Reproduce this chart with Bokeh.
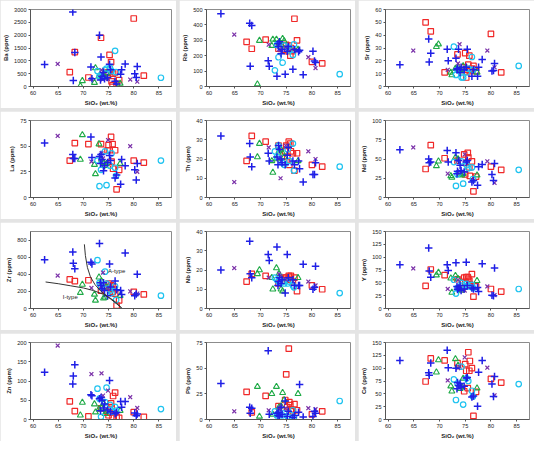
from bokeh.plotting import figure
from bokeh.layouts import gridplot
from bokeh.models import FixedTicker, Range1d, Label
from bokeh.embed import file_html
from bokeh.resources import INLINE

nan = float("nan")

# ---- SiO2 (wt.%) of each sample group ----
B_x = [62.3, 67.9, 68.0, 68.3, 71.5, 71.7, 73.2, 73.4, 73.5, 73.7, 74.0, 74.2, 74.8, 75.2, 75.4, 76.3, 76.6, 77.4, 77.6, 78.3, 80.2, 80.5, 80.7]
R_x = [67.3, 68.3, 71.0, 73.5, 74.8, 75.0, 75.2, 75.5, 75.6, 75.8, 75.9, 76.3, 76.6, 77.1, 80.0, 82.0]
G_x = [69.4, 69.8, 72.2, 72.4, 73.1, 73.6, 74.0, 74.3, 74.6, 77.3]
C_x = [72.8, 73.2, 73.5, 74.3, 74.6, 75.3, 75.6, 76.3, 76.5, 85.4]
P_x = [64.9, 71.6, 73.6, 73.9, 74.9, 79.3, 80.7]

# ---- blue crosses ----
Ba_B = [860, 2900, 230, 1320, 760, 300, 2000, 250, 1150, 400, 550, 300, 350, 870, 650, 200, 100, 480, 650, 880, 500, 350, 780]
Rb_B = [473, 410, 131, 396, 167, 131, 67, 277, 260, 290, 212, 240, 79, 229, 260, 112, 240, 225, 235, 77, 229, 165, 156]
Sr_B = [17, 37, 19, 26, 29, 20, 22, 13, 14, 29, 11, 15, 13, 15, 29, 8, 13, 8, 15, 21, 12, 12.5, 18]
La_B = [53, 42, 38, 38, 59, 39, 40, 33, 42, 37, 26, 31, 34, 41, 36, 19, 22, 13, 37, 31, 27, 17, 33]
Th_B = [32, 28, 21, 16, 23, 19, 21, 17, 27, 25, 20, 18, 17, 22, 26, 19, 17, 19, 15, 8, 12, 12, 18]
Nd_B = [62, 50, 45, 46, 61, 46, 58, 31, 34, 48, 42, 35, 33, 46, 48, 20, 22, 16, 40, 43, 30, 22, 44]
Zr_B = [570, 660, 530, 465, 540, 520, 760, 300, 270, 230, 300, 210, 150, 520, 250, 320, 220, 210, 165, 650, 150, 170, 400]
Nb_B = [20, 35, 18, 16, 28, 25, 32, 12, 14, 16, 13, 15, 8, 28, 16, 15, 12, 12, 12, 23, 10, 11, 22]
Y_B = [85, 118, 73, 61, 85, 74, 89, 43, 37, 40, 45, 35, 38, 90, 45, 40, 38, 41, 33, 87, 26, 25, 79]
Zn_B = [123, 92, 113, 142, 64, 62, 54, 23, 57, 50, 30, 40, 25, 101, 20, 15, 18, 47, 32, 47, 17, 10, 14]
Pb_B = [35, 12, 6, 11, 67, 5, 6, 4, 7, 3, 12, 5, 18, 3, 8, 2, 4, 7, 34, 2.5, 3, 8, 6]
Ce_B = [115, 91, 86, 110, 135, 101, 100, 60, 72, 66, 70, 63, 65, 81, 82, 44, 46, 26, 92, 115, 69, 45, 84]

# ---- red squares ----
Ba_R = [560, 1340, 350, 1900, 530, 560, 1230, 950, 200, 50, 500, 550, 100, 250, 2650, 420]
Rb_R = [290, 245, 305, 245, 240, 270, 230, 265, 245, 200, 250, 230, 440, 300, 160, 150]
Sr_R = [50, 43, 11, 25, 15, 26, 7, 13, 17, 24, 12, 14, 16, 12, 41, 11]
La_R = [36, 53, 52, 52, 46, 51, 46, 59, 35, 52, 28, 46, 8, 27, 36, 34]
Th_R = [19, 32, 29, 27, 24, 27, 21, 29, 17, 28, 24, 23, 14, 23, 17, 16]
Nd_R = [37, 68, 51, 48, 56, 30, 45, 58, 52, 39, 28, 47, 8, 27, 40, 36]
Zr_R = [340, 320, 330, 210, 250, 290, 240, 270, 230, 195, 260, 175, 35, 95, 195, 165]
Nb_R = [14, 18, 17, 13, 16, 16, 15, 17, 16, 15, 17, 14, 16, 9, 12, 10]
Y_R = [44, 76, 65, 57, 60, 52, 61, 61, 58, 54, 47, 67, 23, 43, 38, 33]
Zn_R = [47, 22, 8, 29, 19, 11, 18, 42, 32, 5, 61, 70, 7, 4, 19, 7]
Pb_R = [27, 7, 23, 13, 19, 44, 12, 69, 17, 14, 10, 8, 15, 9, 5, 8]
Ce_R = [74, 119, 115, 110, 55, 108, 95, 61, 131, 95, 114, 100, 7, 54, 79, 72]

# ---- green triangles ----
Ba_G = [20, 220, 150, 720, 400, 360, 450, 350, 520, 120]
Rb_G = [15, 298, 265, 306, 306, 280, 270, 310, 295, 240]
Sr_G = [31, 33, 11, 9, 14, 15, 13, 12, 16, 11]
La_G = [37, 61, 32, 23, 52, 37, 34, 31, 33, 33]
Th_G = [21, 28, 19, 13, 20, 24, 25, 23, 21, 19]
Nd_G = [41, 47, 28, 26, 52, 50, 30, 29, 31, 29]
Zr_G = [185, 280, 165, 95, 365, 320, 120, 130, 250, 150]
Nb_G = [18, 20, 16, 10, 21, 18, 10, 9, 14, 16]
Y_G = [65, 70, 59, 31, 64, 58, 37, 35, 40, 54]
Zn_G = [11, 44, 40, 19, 27, 30, 42, 15, 20, 23]
Pb_G = [32, 3, 25, 5, 32, 12, 13, 26, 19, 25]
Ce_G = [92, 116, 65, 55, 118, 105, 60, 64, 80, 61]

# ---- cyan circles ----
Ba_C = [600, 400, 360, 650, 700, 720, 600, 1390, 560, 340]
Rb_C = [105, 270, 190, 155, 265, 255, 235, 205, 273, 80]
Sr_C = [31, 9, 13, 7, 7, 11, 14, 23, 13, 16]
La_C = [36, 11, 27, 45, 12, 31, 43, 29, 21, 36]
Th_C = [24, 21, 27, 18, 17, 25, 19, 28, 14, 16]
Nd_C = [46, 15, 30, 47, 18, 42, 38, 39, 24, 36]
Zr_C = [565, 300, 250, 430, 290, 210, 180, 260, 100, 150]
Nb_C = [16, 15, 14, 14, 13, 13, 14, 12, 11, 8]
Y_C = [56, 29, 40, 50, 45, 48, 43, 46, 40, 38]
Zn_C = [80, 54, 7, 45, 83, 38, 20, 33, 23, 27]
Pb_C = [8, 4, 6, 4, 6, 3, 2, 9, 2, 18]
Ce_C = [78, 38, 70, 103, 29, 80, 75, 56, 45, 69]

# ---- purple x ----
Ba_P = [880, 290, 640, 280, 300, 270, 190]
Rb_P = [337, 272, 240, 235, 255, 190, 120]
Sr_P = [28, 13, 18, 33, 15, 28, 15]
La_P = [60, 35, 43, 38, 56, 50, 25]
Th_P = [8, 26, 20, 10, 27, 24, 20]
Nd_P = [65, 31, 48, 34, 56, 47, 19]
Zr_P = [385, 240, 250, 420, 230, 200, 175]
Nb_P = [21, 16, 18, 17, 15, 14, 12]
Y_P = [78, 38, 56, 40, 35, 43, 26]
Zn_P = [192, 118, 120, 62, 75, 58, 30]
Pb_P = [8, 9, 10, 12, 11, 11, 10]
Ce_P = [nan, 76, 100, 103, 121, 101, 47]

# ---- Zr discrimination boundaries (A-type / I-type) ----
A_bound_x = [70.2, 70.4, 70.8, 71.4, 72.3, 73.5, 75.0, 76.5, 77.6]
A_bound_y = [750, 620, 480, 370, 280, 200, 130, 60, 5]
I_bound_x = [62.5, 65.0, 67.5, 70.0, 72.0, 74.0, 75.5, 76.7, 77.6]
I_bound_y = [310, 290, 265, 240, 210, 165, 115, 60, 5]

elements = ["Ba", "Rb", "Sr", "La", "Th", "Nd", "Zr", "Nb", "Y", "Zn", "Pb", "Ce"]
y_max = [3000, 500, 60, 75, 40, 100, 900, 40, 150, 200, 75, 150]
y_step = [500, 100, 10, 25, 10, 25, 200, 10, 25, 50, 25, 25]
x_ticks = [60, 65, 70, 75, 80, 85]

series = {
    "Ba": (Ba_R, Ba_G, Ba_C, Ba_P, Ba_B), "Rb": (Rb_R, Rb_G, Rb_C, Rb_P, Rb_B),
    "Sr": (Sr_R, Sr_G, Sr_C, Sr_P, Sr_B), "La": (La_R, La_G, La_C, La_P, La_B),
    "Th": (Th_R, Th_G, Th_C, Th_P, Th_B), "Nd": (Nd_R, Nd_G, Nd_C, Nd_P, Nd_B),
    "Zr": (Zr_R, Zr_G, Zr_C, Zr_P, Zr_B), "Nb": (Nb_R, Nb_G, Nb_C, Nb_P, Nb_B),
    "Y": (Y_R, Y_G, Y_C, Y_P, Y_B), "Zn": (Zn_R, Zn_G, Zn_C, Zn_P, Zn_B),
    "Pb": (Pb_R, Pb_G, Pb_C, Pb_P, Pb_B), "Ce": (Ce_R, Ce_G, Ce_C, Ce_P, Ce_B),
}

FONT = "Liberation Sans"
RED, GREEN, CYAN, PURPLE, BLUE = "#f02828", "#1eaa46", "#1ec3f0", "#7a30a8", "#1f1fe6"

W, H = 176, 108
figs = []
for i, el in enumerate(elements):
    p = figure(width=W, height=H, output_backend="svg", toolbar_location=None,
               x_range=Range1d(59.5, 87.5), y_range=Range1d(0, y_max[i]),
               min_border_left=27, min_border_right=5, min_border_top=9, min_border_bottom=3,
               background_fill_color="white", border_fill_color="white")
    p.grid.visible = False
    p.outline_line_color = "#8c8c8c"
    p.outline_line_width = 1
    p.xaxis.ticker = FixedTicker(ticks=x_ticks)
    p.yaxis.ticker = FixedTicker(ticks=list(range(0, y_max[i] + 1, y_step[i])))
    p.xaxis.axis_label = "SiO₂ (wt.%)"
    p.yaxis.axis_label = f"{el} (ppm)"
    for ax in (p.xaxis[0], p.yaxis[0]):
        ax.axis_line_color = "#555555"
        ax.major_tick_line_color = "#555555"
        ax.major_tick_out = 2
        ax.major_tick_in = 0
        ax.minor_tick_line_color = None
        ax.major_label_text_font = FONT
        ax.major_label_text_font_size = "5.6px"
        ax.major_label_text_color = "#222222"
        ax.axis_label_text_font = FONT
        ax.axis_label_text_font_size = "6px"
        ax.axis_label_text_font_style = "bold"
        ax.axis_label_text_color = "#222222"
        ax.axis_label_standoff = 2
        ax.major_label_standoff = 2

    r, g, c, pu, b = series[el]
    p.scatter(R_x, r, marker="square", size=5.5, fill_color=None, line_color=RED, line_width=1.2)
    p.scatter(G_x, g, marker="triangle", size=6, fill_color=None, line_color=GREEN, line_width=1.1)
    p.scatter(C_x, c, marker="circle", size=5.5, fill_color=None, line_color=CYAN, line_width=1.2)
    p.scatter(P_x, pu, marker="x", size=5.5, line_color=PURPLE, line_width=1.2)
    p.scatter(B_x, b, marker="cross", size=7.5, line_color=BLUE, line_width=1.5)

    if el == "Zr":
        p.line(A_bound_x, A_bound_y, line_color="#333333", line_width=1)
        p.line(I_bound_x, I_bound_y, line_color="#333333", line_width=1)
        p.add_layout(Label(x=76.6, y=440, text="A-type", text_font=FONT, text_font_size="6px",
                           text_align="center", text_baseline="middle", text_color="#222222"))
        p.add_layout(Label(x=67.4, y=137, text="I-type", text_font=FONT, text_font_size="6px",
                           text_align="center", text_baseline="middle", text_color="#222222"))
    figs.append(p)

grid = gridplot(figs, ncols=3, toolbar_location=None)
grid.spacing = 3
grid.styles = {"background-color": "#e4e4e4"}

open("out.html", "w").write(file_html(grid, INLINE))
